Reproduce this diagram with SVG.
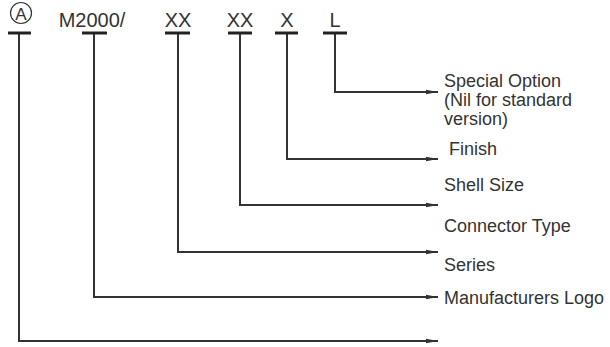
<svg xmlns="http://www.w3.org/2000/svg" width="610" height="347" viewBox="0 0 610 347">
<style>
text{font-family:"Liberation Sans",Arial,sans-serif;fill:#333;}
.top{font-size:20px;text-anchor:middle;}
.lab{font-size:18px;}
.bar{stroke:#222;stroke-width:3;fill:none;}
.ln{stroke:#333;stroke-width:2;fill:none;}
</style>
<defs>
<marker id="ah" viewBox="0 0 12 6" refX="12" refY="3" markerWidth="12" markerHeight="6" markerUnits="userSpaceOnUse" orient="auto">
<path d="M0,0.8 L12,3 L0,5.2 Z" fill="#333"/>
</marker>
</defs>
<g id="connectors">
<path class="ln" d="M19,33 V341 H438" marker-end="url(#ah)"/>
<path class="ln" d="M94,33 V297 H438" marker-end="url(#ah)"/>
<path class="ln" d="M178,33 V252 H438" marker-end="url(#ah)"/>
<path class="ln" d="M240,33 V205 H438" marker-end="url(#ah)"/>
<path class="ln" d="M287,33 V159 H438" marker-end="url(#ah)"/>
<path class="ln" d="M335,33 V92 H438" marker-end="url(#ah)"/>
</g>
<g id="node-a">
<circle cx="21" cy="13" r="10.5" fill="none" stroke="#333" stroke-width="1.2"/>
<text class="top" x="21" y="19.5" style="font-size:17px">A</text>
<line class="bar" x1="8" y1="33" x2="31" y2="33"/>
</g>
<g id="node-m2000">
<text class="top" x="92" y="27">M2000/</text>
<line class="bar" x1="82" y1="33" x2="107" y2="33"/>
</g>
<g id="node-xx1">
<text class="top" x="178" y="27">XX</text>
<line class="bar" x1="165" y1="33" x2="190" y2="33"/>
</g>
<g id="node-xx2">
<text class="top" x="240" y="27">XX</text>
<line class="bar" x1="228" y1="33" x2="252" y2="33"/>
</g>
<g id="node-x">
<text class="top" x="287" y="27">X</text>
<line class="bar" x1="275" y1="33" x2="298" y2="33"/>
</g>
<g id="node-l">
<text class="top" x="335" y="27">L</text>
<line class="bar" x1="323" y1="33" x2="347" y2="33"/>
</g>
<g id="labels">
<text class="lab" x="444" y="87">Special Option</text>
<text class="lab" x="444" y="106">(Nil for standard</text>
<text class="lab" x="444" y="125">version)</text>
<text class="lab" x="449" y="155">Finish</text>
<text class="lab" x="444" y="191">Shell Size</text>
<text class="lab" x="444" y="232">Connector Type</text>
<text class="lab" x="444" y="271">Series</text>
<text class="lab" x="444" y="304">Manufacturers Logo</text>
</g>
</svg>
